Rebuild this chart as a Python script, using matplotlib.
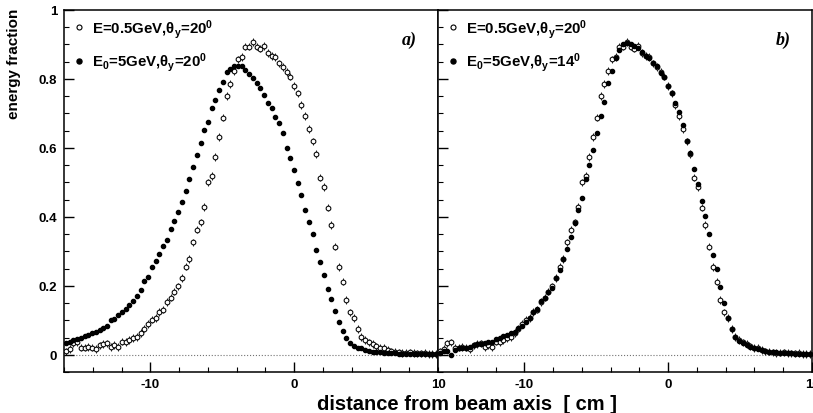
#!/usr/bin/env python3
# Energy fraction vs. distance from beam axis, two panels (ROOT-like style)
import numpy as np
import matplotlib
matplotlib.use('Agg')
import matplotlib.pyplot as plt
from matplotlib.ticker import MultipleLocator, FuncFormatter

plt.rcParams['font.family'] = ['Liberation Sans', 'DejaVu Sans']
plt.rcParams['font.weight'] = 'bold'
plt.rcParams['axes.unicode_minus'] = False
plt.rcParams['mathtext.fontset'] = 'custom'
plt.rcParams['mathtext.rm'] = 'Liberation Sans:bold'
plt.rcParams['mathtext.it'] = 'Liberation Sans:bold'
plt.rcParams['mathtext.bf'] = 'Liberation Sans:bold'
plt.rcParams['mathtext.default'] = 'rm'

# histogram binning: 100 bins from -16 to 10 cm
x_lo, x_hi, n_bins = -16.0, 10.0, 100
x = x_lo + (np.arange(n_bins) + 0.5) * (x_hi - x_lo) / n_bins

# E=0.5 GeV, theta_y=20 (open circles, same in both panels)
open_05 = [
    0.010, 0.016, 0.033, 0.036, 0.021, 0.021, 0.022, 0.021, 0.017, 0.027,
    0.032, 0.033, 0.022, 0.029, 0.022, 0.038, 0.037, 0.043, 0.049, 0.052,
    0.063, 0.076, 0.089, 0.102, 0.106, 0.124, 0.131, 0.153, 0.166, 0.183,
    0.198, 0.222, 0.256, 0.277, 0.326, 0.363, 0.384, 0.429, 0.500, 0.519,
    0.574, 0.632, 0.688, 0.751, 0.785, 0.823, 0.857, 0.864, 0.894, 0.894,
    0.908, 0.894, 0.888, 0.895, 0.876, 0.866, 0.864, 0.845, 0.835, 0.821,
    0.807, 0.780, 0.758, 0.724, 0.693, 0.654, 0.619, 0.582, 0.514, 0.487,
    0.427, 0.377, 0.314, 0.255, 0.212, 0.159, 0.123, 0.106, 0.074, 0.052,
    0.043, 0.036, 0.031, 0.024, 0.019, 0.021, 0.014, 0.010, 0.009, 0.007,
    0.005, 0.006, 0.007, 0.005, 0.004, 0.004, 0.005, 0.003, 0.003, 0.003,
]

# E0=5 GeV, theta_y=20 (filled, panel a)
full_5_20 = [
    0.033, 0.038, 0.043, 0.046, 0.050, 0.054, 0.058, 0.062, 0.066, 0.071,
    0.078, 0.083, 0.100, 0.105, 0.115, 0.125, 0.133, 0.144, 0.157, 0.171,
    0.188, 0.213, 0.226, 0.255, 0.272, 0.292, 0.316, 0.334, 0.366, 0.388,
    0.413, 0.443, 0.475, 0.511, 0.546, 0.580, 0.613, 0.652, 0.676, 0.715,
    0.738, 0.767, 0.790, 0.819, 0.830, 0.838, 0.838, 0.838, 0.826, 0.815,
    0.804, 0.788, 0.775, 0.753, 0.730, 0.715, 0.691, 0.671, 0.642, 0.601,
    0.570, 0.537, 0.497, 0.463, 0.419, 0.386, 0.349, 0.303, 0.268, 0.231,
    0.192, 0.163, 0.128, 0.096, 0.070, 0.050, 0.034, 0.026, 0.021, 0.019,
    0.015, 0.012, 0.009, 0.008, 0.007, 0.006, 0.005, 0.004, 0.004, 0.003,
    0.003, 0.003, 0.002, 0.002, 0.002, 0.002, 0.002, 0.001, 0.001, 0.001,
]

# E0=5 GeV, theta_y=14 (filled, panel b)
full_5_14 = [
    0.006, 0.012, 0.010, 0.000, 0.015, 0.021, 0.021, 0.021, 0.023, 0.028,
    0.031, 0.031, 0.033, 0.036, 0.038, 0.045, 0.048, 0.055, 0.058, 0.062,
    0.065, 0.077, 0.084, 0.094, 0.106, 0.123, 0.132, 0.155, 0.166, 0.181,
    0.195, 0.224, 0.246, 0.279, 0.306, 0.342, 0.381, 0.419, 0.456, 0.509,
    0.550, 0.593, 0.642, 0.693, 0.734, 0.789, 0.823, 0.860, 0.883, 0.900,
    0.905, 0.902, 0.896, 0.891, 0.879, 0.867, 0.862, 0.847, 0.838, 0.818,
    0.806, 0.780, 0.758, 0.729, 0.703, 0.667, 0.620, 0.584, 0.538, 0.495,
    0.445, 0.403, 0.350, 0.290, 0.248, 0.197, 0.149, 0.106, 0.075, 0.052,
    0.041, 0.033, 0.028, 0.023, 0.019, 0.017, 0.014, 0.012, 0.009, 0.009,
    0.007, 0.006, 0.005, 0.004, 0.004, 0.003, 0.003, 0.002, 0.002, 0.002,
]

label_open = r'E=0.5GeV,θ$_{y}$=20$^{0}$'
labels_full = [r'E$_{0}$=5GeV,θ$_{y}$=20$^{0}$', r'E$_{0}$=5GeV,θ$_{y}$=14$^{0}$']
panel_tags = ['a)', 'b)']

W, H = 813, 414
fig = plt.figure(figsize=(W / 100, H / 100), dpi=100)


def box(left, right, top, bottom):
    return [left / W, 1 - bottom / H, (right - left) / W, (bottom - top) / H]


ax_a = fig.add_axes(box(64, 438, 11, 373))
ax_b = fig.add_axes(box(438, 812, 11, 373))

for ax, full, lab_full, tag in zip([ax_a, ax_b], [full_5_20, full_5_14], labels_full, panel_tags):
    ax.axhline(0, color='0.45', ls=':', lw=0.8, zorder=1)
    ax.errorbar(x, open_05, yerr=0.011, fmt='o', ms=3.4, mfc='white', mec='black',
                mew=0.75, ecolor='black', elinewidth=0.6, capsize=0, zorder=3)
    ax.plot(x, full, 'o', color='black', ms=3.0, zorder=4)

    ax.set_xlim(x_lo, x_hi)
    ax.set_ylim(-0.05, 1.0)
    ax.xaxis.set_major_locator(MultipleLocator(10))
    ax.xaxis.set_minor_locator(MultipleLocator(2))
    ax.yaxis.set_major_locator(MultipleLocator(0.2))
    ax.yaxis.set_minor_locator(MultipleLocator(0.05))
    ax.xaxis.set_major_formatter(FuncFormatter(lambda v, p: f'{v:g}'))
    ax.yaxis.set_major_formatter(FuncFormatter(lambda v, p: f'{round(v, 2):g}'))
    ax.tick_params(which='both', direction='in', top=False, right=False, labelsize=9.5)
    ax.tick_params(which='major', length=7, width=1.0)
    ax.tick_params(which='minor', length=3.5, width=0.8)
    ax.tick_params(axis='y', pad=5)
    ax.tick_params(axis='x', pad=4)
    for s in ax.spines.values():
        s.set_linewidth(1.1)

    # legend, drawn like the ROOT one
    ax.plot([0.040], [0.952], 'o', transform=ax.transAxes, ms=3.6, mfc='white',
            mec='black', mew=0.8, clip_on=False)
    ax.text(0.074, 0.9365, label_open, transform=ax.transAxes, fontsize=10.8, va='baseline')
    ax.plot([0.040], [0.860], 'o', transform=ax.transAxes, ms=3.6, color='black', clip_on=False)
    ax.text(0.074, 0.846, lab_full, transform=ax.transAxes, fontsize=10.8, va='baseline')

    ax.text(0.944, 0.92, tag, transform=ax.transAxes, ha='right', va='center',
            family='Liberation Serif', style='italic', weight='bold', fontsize=13)

ax_b.tick_params(labelleft=False)

fig.text(14 / W, 1 - 9 / H, 'energy fraction', rotation=90, ha='center', va='top', fontsize=11)
fig.text(467 / W, 1 - 405 / H, 'distance from beam axis  [ cm ]', ha='center', va='center',
         fontsize=14.5)

fig.savefig('out.png', dpi=100)
